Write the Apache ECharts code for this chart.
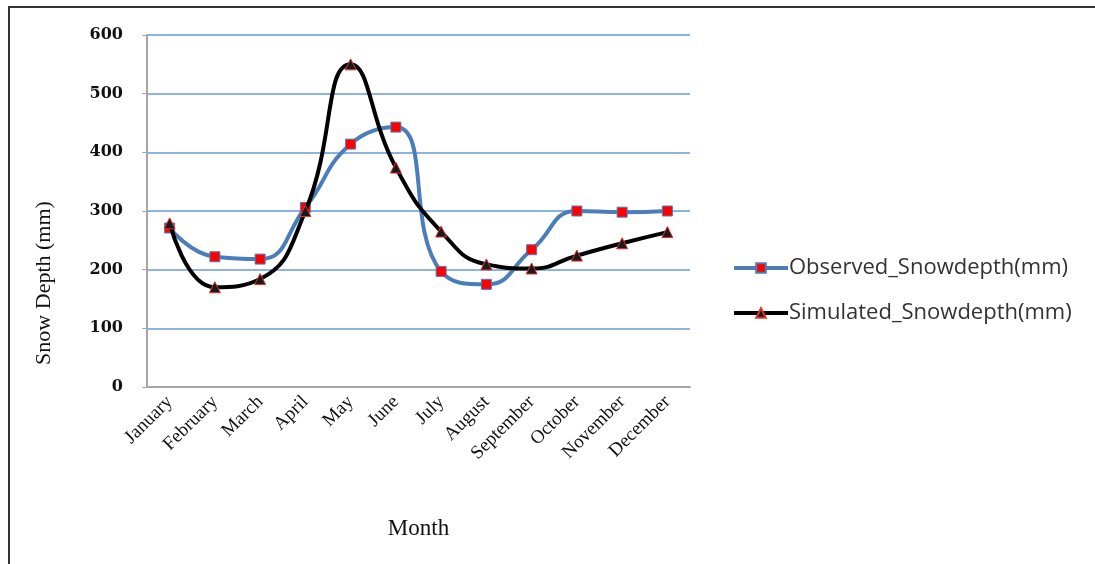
<!DOCTYPE html>
<html><head><meta charset="utf-8">
<script src="https://cdn.jsdelivr.net/npm/echarts@6/dist/echarts.min.js"></script>
<style>
html,body{margin:0;padding:0;background:#fff;}
#frame{position:absolute;left:8px;top:6px;width:1087px;height:558px;border-top:2px solid #333;border-left:2px solid #333;box-sizing:border-box;}
#c{position:absolute;left:0;top:0;width:1095px;height:564px;}
</style></head>
<body>
<div id="frame"></div>
<div id="c"></div>
<script>
const months = ['January','February','March','April','May','June','July','August','September','October','November','December'];
const observed = [271, 222, 218, 306, 414, 443, 197, 175, 234, 300, 298, 300];
const simulated = [279, 170, 184, 300, 550, 374, 265, 209, 202, 224, 245, 264];
const yTicks = {min: 0, max: 600, interval: 100};

const chart = echarts.init(document.getElementById('c'));
chart.setOption({
  animation: false,
  backgroundColor: 'transparent',
  grid: {left: 147, right: 405, top: 35, bottom: 177},
  legend: {
    orient: 'vertical', left: 727, top: 252, itemGap: 23,
    itemWidth: 54, itemHeight: 12,
    lineStyle: {width: 4},
    textStyle: {fontFamily: 'Open Sans', fontSize: 22, color: '#333', padding: [0,0,0,-4]},
    data: ['Observed_Snowdepth(mm)', 'Simulated_Snowdepth(mm)']
  },
  xAxis: {
    type: 'category', data: months, boundaryGap: true,
    name: 'Month', nameLocation: 'middle', nameGap: 130,
    nameTextStyle: {fontFamily: 'Liberation Serif', fontSize: 23, color: '#111'},
    axisLine: {lineStyle: {color: '#a6a6a6', width: 2}},
    axisTick: {show: false},
    axisLabel: {rotate: 45, margin: 12, padding: [8, 0, 0, 0], fontFamily: 'Liberation Serif', fontSize: 19, color: '#111', interval: 0}
  },
  yAxis: {
    type: 'value', min: yTicks.min, max: yTicks.max, interval: yTicks.interval,
    name: 'Snow Depth (mm)', nameLocation: 'middle', nameGap: 92,
    nameTextStyle: {fontFamily: 'Liberation Serif', fontSize: 22, color: '#111', padding: [0, 144, 0, 0]},
    axisLine: {show: true, lineStyle: {color: '#a6a6a6', width: 2}},
    axisTick: {show: true, length: 5, lineStyle: {color: '#a6a6a6'}},
    axisLabel: {fontFamily: 'DejaVu Serif', fontWeight: 'bold', fontSize: 16, color: '#111', margin: 24},
    splitLine: {lineStyle: {color: '#8db3e2', width: 2}}
  },
  series: [
    {
      name: 'Observed_Snowdepth(mm)', type: 'line', data: observed, smooth: 0.5,
      symbol: 'rect', symbolSize: 10,
      lineStyle: {color: '#4a7ebb', width: 4},
      itemStyle: {color: '#ff0000', borderColor: '#4a7ebb', borderWidth: 1},
      z: 2
    },
    {
      name: 'Simulated_Snowdepth(mm)', type: 'line', data: simulated, smooth: 0.5,
      symbol: 'triangle', symbolSize: 11,
      lineStyle: {color: '#000000', width: 4},
      itemStyle: {color: '#1a1a1a', borderColor: '#e03030', borderWidth: 1},
      z: 3
    }
  ]
});
</script>
</body></html>
